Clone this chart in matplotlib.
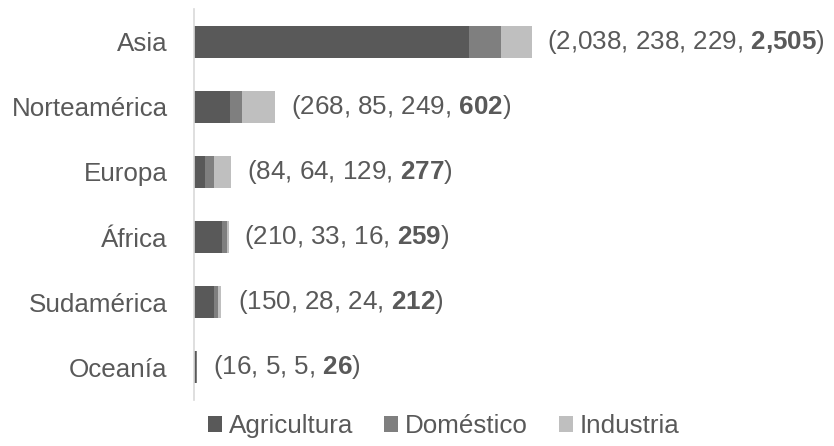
import matplotlib
matplotlib.use("Agg")
import matplotlib.pyplot as plt
import numpy as np

# Datos (km3/año) por región
regiones = ["Asia", "Norteamérica", "Europa", "África", "Sudamérica", "Oceanía"]
agricultura = [2038, 268, 84, 210, 150, 16]
domestico = [238, 85, 64, 33, 28, 5]
industria = [229, 249, 129, 16, 24, 5]
totales = [2505, 602, 277, 259, 212, 26]

series = ["Agricultura", "Doméstico", "Industria"]
colores = ["#595959", "#7f7f7f", "#bfbfbf"]
gris_texto = "#595959"

plt.rcParams["font.family"] = ["Liberation Sans", "DejaVu Sans"]
plt.rcParams["mathtext.fontset"] = "custom"
plt.rcParams["mathtext.rm"] = "Liberation Sans"
plt.rcParams["mathtext.bf"] = "Liberation Sans:bold"

tam = 18.7

fig = plt.figure(figsize=(8.34, 4.46), dpi=100)
ax = fig.add_axes([0.2326, 0.104, 0.7674, 0.875])

y = np.arange(len(regiones))
izq = np.zeros(len(regiones))
for vals, nombre, col in zip([agricultura, domestico, industria], series, colores):
    ax.barh(y, vals, left=izq, height=0.5, color=col, label=nombre)
    izq = izq + np.array(vals)

# etiquetas con el total en negrita
for i in range(len(regiones)):
    etiqueta = "(%s, %s, %s, $\\mathbf{%s}$)" % (
        format(agricultura[i], ","), format(domestico[i], ","),
        format(industria[i], ","), format(totales[i], ",").replace(",", "{,}"))
    ax.annotate(etiqueta, xy=(totales[i], y[i]), xytext=(11, 0),
                textcoords="offset points", va="center", ha="left",
                fontsize=tam, color=gris_texto)

ax.set_xlim(0, 4741)
ax.set_ylim(len(regiones) - 0.5, -0.5)
ax.set_yticks(y)
ax.set_yticklabels(regiones, fontsize=tam, color=gris_texto)
ax.tick_params(axis="y", length=0, pad=19)
ax.set_xticks([])
for s in ["top", "right", "bottom"]:
    ax.spines[s].set_visible(False)
ax.spines["left"].set_color("#d9d9d9")
ax.spines["left"].set_linewidth(1.2)

leg = fig.legend(loc="center", bbox_to_anchor=(0.532, 0.045), ncol=3, frameon=False,
                 fontsize=tam, handlelength=0.55, handleheight=0.55,
                 handletextpad=0.25, columnspacing=1.2)
for t in leg.get_texts():
    t.set_color(gris_texto)

fig.savefig("out.png", dpi=100)
